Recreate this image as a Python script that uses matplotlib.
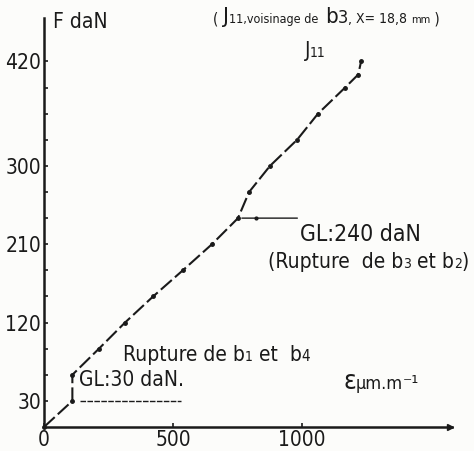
import matplotlib
matplotlib.use("Agg")
import matplotlib.pyplot as plt
from matplotlib.offsetbox import TextArea, HPacker, AnnotationBbox

plt.rcParams['font.family'] = ['DejaVu Sans']
plt.rcParams['font.stretch'] = 'condensed'

# jauge J11, effort F (daN) en fonction de la deformation (um/m)
strain = [0, 110, 110, 213, 314, 423, 538, 651, 752, 795, 876, 981, 1062, 1167, 1218, 1229]
force = [0, 30, 60, 90, 120, 150, 180, 210, 240, 270, 300, 330, 360, 390, 405, 420]

y_ticks = list(range(30, 421, 30))
y_labelled = [30, 120, 210, 300, 420]
x_ticks = [500, 1000]

gl_low = 30
gl_high = 240

INK = '#1a1a1a'


def mixed_text(ax, parts, xy, coords='data', align='left'):
    boxes = [TextArea(s, textprops=dict(fontsize=sz, color=INK)) for s, sz in parts]
    pack = HPacker(children=boxes, align='baseline', pad=0, sep=0)
    box_align = (0, 0.5) if align == 'left' else (0.5, 0.5)
    ab = AnnotationBbox(pack, xy, xycoords=coords, frameon=False,
                        box_alignment=box_align, pad=0, annotation_clip=False)
    ax.add_artist(ab)


fig = plt.figure(figsize=(4.74, 4.51), dpi=100)
fig.patch.set_facecolor('#fcfcfa')
ax = fig.add_axes([0.0928, 0.0532, 0.86, 0.907])
ax.set_facecolor('none')
ax.set_xlim(0, 1580)
ax.set_ylim(0, 470)

for side in ('top', 'right'):
    ax.spines[side].set_visible(False)
for side in ('left', 'bottom'):
    ax.spines[side].set_linewidth(1.8)
    ax.spines[side].set_color(INK)
ax.plot(0.995, 0, '>', color=INK, markersize=5, transform=ax.transAxes, clip_on=False)

ax.set_yticks(y_ticks)
ax.set_yticklabels([str(v) if v in y_labelled else '' for v in y_ticks])
ax.set_xticks([0] + x_ticks)
ax.set_xticklabels(['0'] + [str(v) for v in x_ticks])
ax.tick_params(axis='both', direction='in', length=3, width=1.2, color=INK,
               labelsize=15, labelcolor=INK)
ax.tick_params(axis='y', pad=2)
ax.tick_params(axis='x', pad=2)
for lbl in ax.get_yticklabels():
    lbl.set_verticalalignment('center_baseline')

# courbe
ax.plot(strain, force, color=INK, lw=1.5, linestyle=(0, (7, 2)),
        marker='o', markersize=2.5, clip_on=False)

# seuils GL
x_low = strain[force.index(gl_low)]
x_high = strain[force.index(gl_high)]
ax.plot([x_low + 30, x_low + 420], [gl_low, gl_low], color=INK, lw=1.0,
        linestyle=(0, (4, 1)))
ax.annotate('', xy=(x_high + 15, gl_high), xytext=(x_high + 230, gl_high),
            arrowprops=dict(arrowstyle='-', color=INK, lw=1.0, shrinkA=0, shrinkB=0))
ax.plot([x_high + 70], [gl_high], 'o', color=INK, markersize=2)

ax.text(x_low + 25, gl_low + 24, 'GL:30 daN.', fontsize=15, color=INK,
        va='center', ha='left')
ax.text(x_high + 240, gl_high - 19, 'GL:240 daN', fontsize=16.5, color=INK,
        va='center', ha='left')
mixed_text(ax, [('(Rupture  de b', 15), ('3', 10), (' et b', 15), ('2', 10), (')', 15)],
           (868, 190))
mixed_text(ax, [('Rupture de b', 15), ('1', 10), (' et  b', 15), ('4', 11)], (306, 83))
mixed_text(ax, [('J', 15), ('11', 10)], (1010, 432))
mixed_text(ax, [('ε', 19), ('μm.m', 13), ('⁻¹', 14)], (1159, 52))

ax.text(33, 465, 'F daN', fontsize=15, color=INK, va='center', ha='left', clip_on=False)

mixed_text(ax, [('( ', 11), ('J', 16), ('11,voisinage de  ', 9), ('b', 16), ('3', 13),
                (', X= 18,8 ', 10), ('mm', 8), (' )', 11)],
           (213 / 474, 1 - 17 / 451), coords='figure fraction')

fig.savefig('out.png', dpi=100, facecolor=fig.get_facecolor())
